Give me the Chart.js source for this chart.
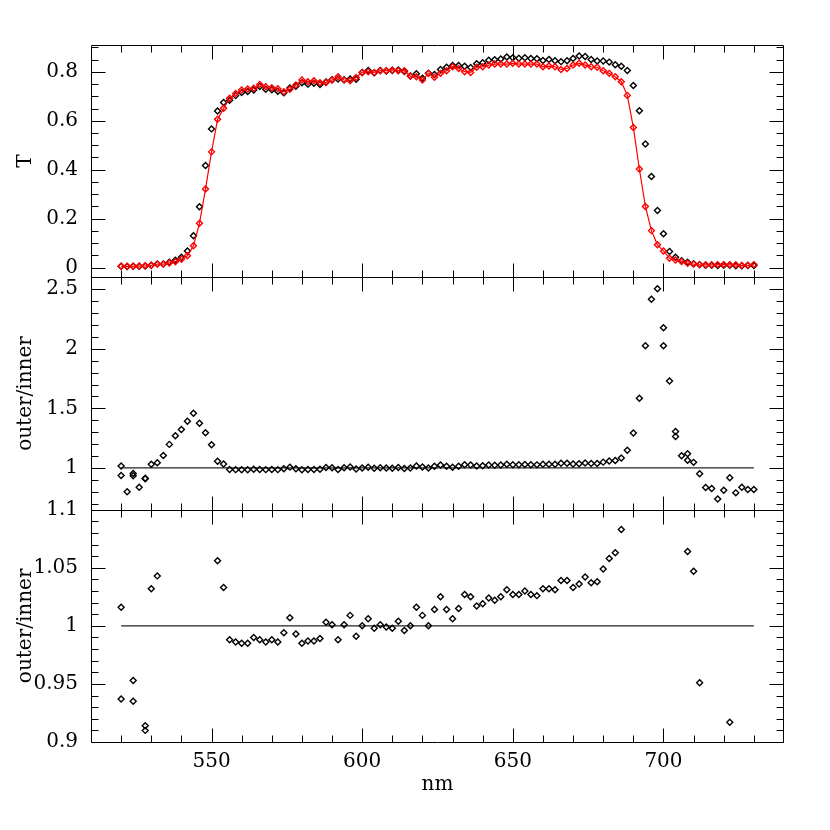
<!DOCTYPE html>
<html>
<head>
<meta charset="utf-8">
<script src="https://cdn.jsdelivr.net/npm/chart.js@4/dist/chart.umd.min.js"></script>
<style>html,body{margin:0;background:#fff}</style>
</head>
<body>
<canvas id="c" width="830" height="830"></canvas>
<script>
// wavelengths (nm) for the transmission curves
const nm = [520,522,524,526,528,530,532,534,536,538,540,542,544,546,548,550,552,554,556,558,
  560,562,564,566,568,570,572,574,576,578,580,582,584,586,588,590,592,594,596,598,
  600,602,604,606,608,610,612,614,616,618,620,622,624,626,628,630,632,634,636,638,
  640,642,644,646,648,650,652,654,656,658,660,662,664,666,668,670,672,674,676,678,
  680,682,684,686,688,690,692,694,696,698,700,702,704,706,708,710,712,714,716,718,
  720,722,724,726,728,730];

// inner (red, with line)
const tInner = [.005,.005,.005,.006,.007,.009,.014,.014,.019,.024,.034,.048,.089,.181,.321,.473,.606,.651,.692,.712,
  .726,.730,.733,.749,.739,.735,.731,.719,.729,.746,.767,.760,.764,.756,.757,.767,.780,.767,.764,.777,
  .798,.801,.798,.805,.805,.808,.805,.805,.783,.780,.767,.794,.778,.794,.805,.821,.814,.801,.798,.819,
  .821,.828,.832,.832,.832,.835,.832,.832,.832,.832,.821,.824,.821,.810,.814,.828,.835,.828,.821,.819,
  .805,.794,.780,.760,.704,.573,.403,.250,.151,.093,.068,.038,.031,.025,.018,.014,.011,.011,.011,.012,
  .012,.011,.011,.008,.009,.012];

// outer (black markers)
const tOuter = [.005,.004,.005,.005,.006,.009,.015,.015,.022,.030,.042,.068,.130,.249,.417,.567,.640,.675,.684,.703,
  .716,.720,.726,.740,.729,.727,.721,.715,.734,.741,.756,.750,.754,.748,.759,.768,.771,.768,.771,.770,
  .798,.806,.796,.806,.804,.806,.808,.802,.783,.792,.774,.794,.789,.810,.819,.826,.826,.823,.818,.833,
  .837,.848,.850,.853,.861,.858,.856,.858,.855,.854,.847,.851,.846,.842,.846,.855,.865,.863,.851,.845,
  .845,.840,.829,.823,.806,.744,.641,.505,.372,.233,.138,.066,.042,.028,.022,.016,.012,.009,.009,.008,
  .009,.009,.007,.007,.008,.008];

// outer/inner ratio (some wavelengths measured twice)
const ratioNm = [520,520,522,524,524,526,528,528,530,532,534,536,538,540,542,544,546,548,550,552,554,
  556,558,560,562,564,566,568,570,572,574,576,578,580,582,584,586,588,590,592,594,596,598,
  600,602,604,606,608,610,612,614,616,618,620,622,624,626,628,630,632,634,636,638,
  640,642,644,646,648,650,652,654,656,658,660,662,664,666,668,670,672,674,676,678,
  680,682,684,686,688,690,692,694,696,698,700,700,702,704,704,706,708,708,710,712,714,716,718,
  720,722,724,726,728,730];
const ratio = [1.016,0.937,0.80,0.953,0.935,0.838,0.914,0.910,1.032,1.043,1.104,1.198,1.270,1.323,1.393,1.460,1.376,1.295,1.195,1.056,1.033,
  0.988,0.986,0.985,0.985,0.990,0.988,0.986,0.988,0.986,0.994,1.007,0.993,0.985,0.987,0.987,0.989,1.003,1.001,0.988,1.001,1.009,0.991,
  1.000,1.006,0.998,1.001,0.999,0.998,1.004,0.996,1.000,1.016,1.009,1.000,1.014,1.025,1.014,1.006,1.015,1.027,1.025,1.017,
  1.019,1.024,1.022,1.025,1.031,1.027,1.027,1.030,1.027,1.026,1.032,1.032,1.031,1.039,1.039,1.033,1.036,1.042,1.037,1.038,
  1.049,1.058,1.063,1.083,1.148,1.293,1.585,2.026,2.416,2.505,2.176,2.026,1.730,1.307,1.265,1.103,1.120,1.064,1.047,0.951,0.836,0.827,0.740,
  0.813,0.917,0.791,0.838,0.819,0.819];

// reference line at ratio = 1
const refNm = [520, 730];
const refVal = [1, 1];

// tick labels
const xLabels = [550, 600, 650, 700];
const tLabels = [0, 0.2, 0.4, 0.6, 0.8];
const rLabels = [1, 1.5, 2, 2.5];
const zLabels = [0.9, 0.95, 1, 1.05, 1.1];

function steps(a, b, d) {
  const out = [];
  for (let v = a; v <= b + d / 2; v += d) out.push(+v.toFixed(4));
  return out;
}
const pts = (xs, ys) => xs.map((x, i) => ({x, y: ys[i]}));

const FONT = {family: 'DejaVu Serif', size: 20};

// frame + inward ticks on all four sides of every panel
const panels = [
  {id: 'yT', labels: tLabels, minor: steps(0, 0.9, 0.05)},
  {id: 'yR', labels: rLabels, minor: steps(0.7, 2.6, 0.1)},
  {id: 'yZ', labels: zLabels, minor: steps(0.9, 1.1, 0.01)}
];
const xMinor = steps(520, 730, 10);
const isMajor = (v, list) => list.some(m => Math.abs(m - v) < 1e-6);

const frameTicks = {
  id: 'frameTicks',
  afterDraw(chart) {
    const {ctx, chartArea: {left, right}, scales} = chart;
    const x = scales.x;
    const L = Math.round(left) + 0.5, R = Math.round(right) - 0.5;
    ctx.save();
    ctx.strokeStyle = '#000';
    ctx.lineWidth = 1;
    panels.forEach(p => {
      const s = scales[p.id];
      const top = Math.round(s.top) + 0.5, bot = Math.round(s.bottom) + 0.5;
      ctx.beginPath();
      ctx.rect(L, top, R - L, bot - top);
      xMinor.forEach(v => {
        const px = Math.round(x.getPixelForValue(v)) + 0.5;
        const len = isMajor(v, xLabels) ? 14 : 7;
        ctx.moveTo(px, top); ctx.lineTo(px, top + len);
        ctx.moveTo(px, bot); ctx.lineTo(px, bot - len);
      });
      p.minor.forEach(v => {
        const py = Math.round(s.getPixelForValue(v)) + 0.5;
        if (py < top - 0.1 || py > bot + 0.1) return;
        const len = isMajor(v, p.labels) ? 14 : 7;
        ctx.moveTo(L, py); ctx.lineTo(L + len, py);
        ctx.moveTo(R, py); ctx.lineTo(R - len, py);
      });
      ctx.stroke();
    });
    ctx.restore();
  }
};

// keep each dataset inside its own panel
const panelClip = {
  id: 'panelClip',
  beforeDatasetDraw(chart, args) {
    const s = chart.scales[args.meta.yAxisID];
    const {left, right} = chart.chartArea;
    chart.ctx.save();
    chart.ctx.beginPath();
    chart.ctx.rect(left, s.top, right - left, s.bottom - s.top);
    chart.ctx.clip();
  },
  afterDatasetDraw(chart) { chart.ctx.restore(); }
};

function yScale(min, max, labels, title, weight) {
  return {
    type: 'linear', position: 'left', stack: 'panels', stackWeight: 1, weight,
    min, max, bounds: 'data',
    grid: {display: false, drawTicks: false}, border: {display: false},
    afterBuildTicks: s => { s.ticks = labels.map(v => ({value: v})); },
    afterFit: s => { s.width = 91; },
    ticks: {padding: 13, autoSkip: false, color: '#000', font: FONT, callback: v => String(v)},
    title: {display: true, text: title, color: '#000', font: FONT, padding: {top: 14, bottom: 0}}
  };
}

const marker = {pointStyle: 'rectRot', pointRadius: 3, pointHoverRadius: 3, pointBorderWidth: 1.4,
  pointBackgroundColor: 'rgba(0,0,0,0)'};

new Chart(document.getElementById('c'), {
  type: 'scatter',
  data: {
    datasets: [
      {...marker, data: pts(nm, tInner), yAxisID: 'yT', showLine: true, borderColor: '#ff0000',
        borderWidth: 1.2, pointBorderColor: '#ff0000'},
      {...marker, data: pts(nm, tOuter), yAxisID: 'yT', pointBorderColor: '#000'},
      {...marker, data: pts(ratioNm, ratio), yAxisID: 'yR', pointBorderColor: '#000'},
      {...marker, data: pts(ratioNm, ratio), yAxisID: 'yZ', pointBorderColor: '#000'},
      {data: pts(refNm, refVal), yAxisID: 'yR', showLine: true, borderColor: '#222', borderWidth: 1.2, pointRadius: 0},
      {data: pts(refNm, refVal), yAxisID: 'yZ', showLine: true, borderColor: '#222', borderWidth: 1.2, pointRadius: 0}
    ]
  },
  options: {
    responsive: false,
    animation: false,
    devicePixelRatio: 1,
    layout: {padding: {top: 45, right: 46, left: 0, bottom: 0}},
    plugins: {legend: {display: false}, tooltip: {enabled: false}},
    scales: {
      x: {
        type: 'linear', position: 'bottom', min: 510, max: 740, bounds: 'data',
        grid: {display: false, drawTicks: false}, border: {display: false},
        afterBuildTicks: s => { s.ticks = xLabels.map(v => ({value: v})); },
        afterFit: s => { s.height = 88; },
        ticks: {padding: 8, autoSkip: false, maxRotation: 0, color: '#000', font: FONT, callback: v => String(v)},
        title: {display: true, text: 'nm', color: '#000', font: FONT, padding: {top: 0, bottom: 33}}
      },
      yT: yScale(-0.04, 0.91, tLabels, 'T', 3),
      yR: yScale(0.65, 2.6, rLabels, 'outer/inner', 2),
      yZ: yScale(0.9, 1.1, zLabels, 'outer/inner', 1)
    }
  },
  plugins: [panelClip, frameTicks]
});
</script>
</body>
</html>
